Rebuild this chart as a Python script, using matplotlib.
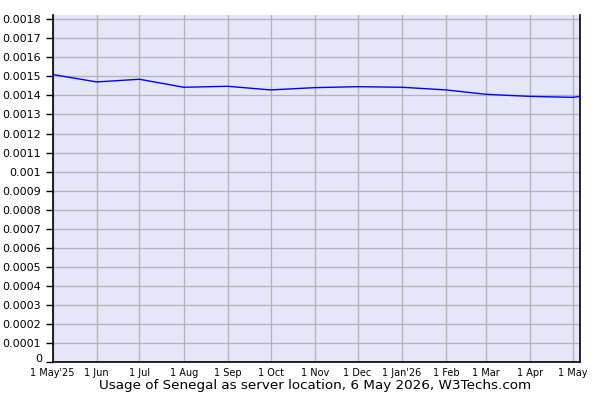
import numpy as np
import pandas as pd
import matplotlib
matplotlib.use("Agg")
import matplotlib.pyplot as plt
import matplotlib.transforms as mtransforms

# datos (uso de Senegal como ubicacion de servidor, %)
fechas = ["2025-05-01", "2025-06-01", "2025-07-01", "2025-08-01", "2025-09-01",
          "2025-10-01", "2025-11-01", "2025-12-01", "2026-01-01", "2026-02-01",
          "2026-03-01", "2026-04-01", "2026-05-01", "2026-05-06"]
valores = [0.00151, 0.001471, 0.001485, 0.001443, 0.001448,
           0.001429, 0.001441, 0.001446, 0.001443, 0.001429,
           0.001406, 0.001395, 0.00139, 0.001395]

meses = ["2025-05-01", "2025-06-01", "2025-07-01", "2025-08-01", "2025-09-01",
         "2025-10-01", "2025-11-01", "2025-12-01", "2026-01-01", "2026-02-01",
         "2026-03-01", "2026-04-01", "2026-05-01"]
etiquetas_x = ["1 May'25", "1 Jun", "1 Jul", "1 Aug", "1 Sep", "1 Oct", "1 Nov",
               "1 Dec", "1 Jan'26", "1 Feb", "1 Mar", "1 Apr", "1 May"]

ticks_y = [i * 0.0001 for i in range(19)]
etiquetas_y = ["0", "0.0001", "0.0002", "0.0003", "0.0004", "0.0005", "0.0006",
               "0.0007", "0.0008", "0.0009", "0.001", "0.0011", "0.0012",
               "0.0013", "0.0014", "0.0015", "0.0016", "0.0017", "0.0018"]

titulo = "Usage of Senegal as server location, 6 May 2026, W3Techs.com"

x = pd.to_datetime(fechas)
xm = pd.to_datetime(meses)

fig = plt.figure(figsize=(6, 4), dpi=100)
ax = fig.add_axes([52.5 / 600, 38 / 400, 527.5 / 600, 347 / 400])
ax.set_facecolor("#e6e6fa")

ax.plot(x, valores, color="#0000ff", linewidth=1, zorder=3)

ax.set_xlim(pd.Timestamp("2025-05-01"), pd.Timestamp("2026-05-06"))
ax.set_ylim(0, 0.0018225)

ax.set_xticks(xm)
ax.set_xticklabels(etiquetas_x, fontsize=7)
ax.set_yticks(ticks_y)
# el "0" se pone aparte, un poco mas arriba, para no pisar "1 May'25"
ax.set_yticklabels([""] + etiquetas_y[1:], fontsize=8)
desplaz = mtransforms.ScaledTranslation(-10 / 100, 3.5 / 100, fig.dpi_scale_trans)
ax.text(0, ticks_y[0], etiquetas_y[0], fontsize=8, ha="right", va="center",
        transform=ax.get_yaxis_transform() + desplaz)

ax.grid(True, color="#b4b4b4", linewidth=1, zorder=1)
ax.set_axisbelow(True)

ax.tick_params(axis="x", length=0, pad=4)
ax.tick_params(axis="y", direction="out", length=5, width=1, pad=3.5)

for lado in ["left", "bottom", "right"]:
    ax.spines[lado].set_color("black")
    ax.spines[lado].set_linewidth(1.2)
ax.spines["top"].set_visible(False)

fig.text(315 / 600, 1 - 386 / 400, titulo, ha="center", va="center", fontsize=9.7)

fig.savefig("out.png", dpi=100)
